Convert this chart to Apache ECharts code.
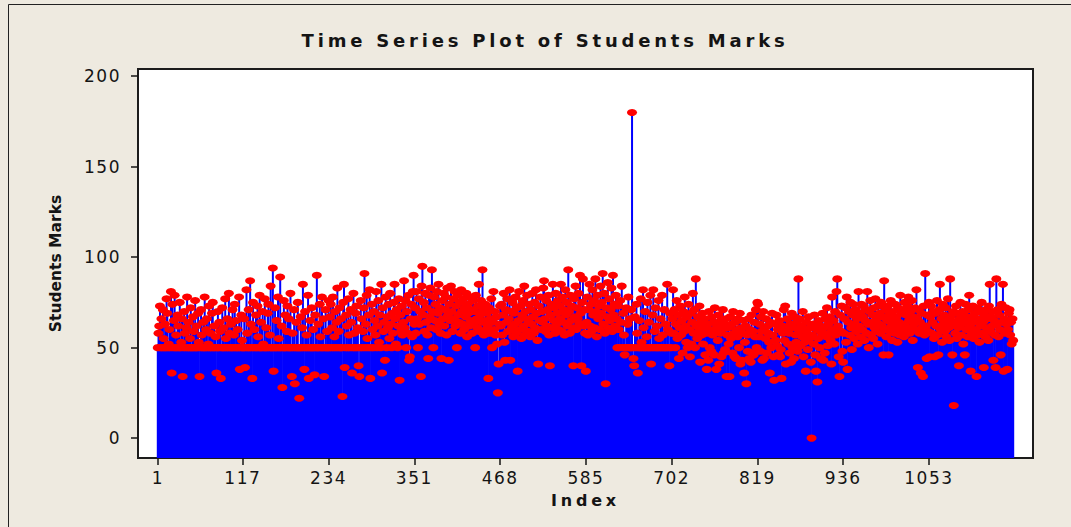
<!DOCTYPE html>
<html>
<head>
<meta charset="utf-8">
<title>Time Series Plot of Students Marks</title>
<script src="https://cdn.jsdelivr.net/npm/echarts@6.0.0/dist/echarts.min.js"></script>
<style>
  html, body { margin: 0; padding: 0; background: #eeeae0; overflow: hidden; }
  #chart { width: 1071px; height: 527px; }
  /* the original spreads its letters; echarts text has no letterSpacing, so it is done on the svg text */
  #chart text[style*="17px"] { letter-spacing: 1.5px; }
  #chart text[style*="18px"] { letter-spacing: 3.8px; }
  #chart text[style*="16px"] { letter-spacing: 3.8px; }
</style>
</head>
<body>
<div id="chart"></div>
<script>
// marks, one array per stretch between two index ticks
const marksPart1 = [
  50,58,62,73,50,66,50,71,55,50,63,50,77,69,50,52,60,50,81,36,
  74,50,65,79,50,57,50,68,62,50,75,50,53,66,34,50,70,58,50,61,
  78,50,64,50,55,72,50,50,67,59,50,76,50,62,50,69,53,34,50,71,
  57,50,64,50,78,50,60,66,50,52,73,50,58,50,69,75,50,62,50,56,
  36,50,70,50,64,59,33,50,72,50,61,50,77,55,50,66,50,80,58,50,
  63,50,71,50,57,74,50,65,50,60,50,78,38,50,68,54,50
];
const marksPart2 = [
  50,66,39,50,82,58,50,71,50,87,63,50,33,75,50,60,50,68,50,73,
  56,50,79,50,64,50,70,52,50,77,50,61,50,69,74,50,57,84,50,50,
  94,37,50,72,50,65,50,78,55,50,89,50,62,28,50,76,50,68,50,59,
  73,50,66,50,80,50,34,58,50,71,30,50,64,50,75,50,22,50,67,50,
  61,85,50,38,70,50,57,50,79,33,50,65,50,72,50,60,50,35,68,50,
  90,50,63,50,74,56,50,78,50,66,34,50,71,50,59,50,76
];
const marksPart3 = [
  50,67,74,50,61,78,50,56,70,50,64,83,50,59,72,50,66,50,23,75,
  85,39,50,68,62,50,77,57,50,71,64,36,50,80,58,50,69,73,50,61,
  40,34,50,76,66,50,59,72,91,50,63,79,55,50,68,82,33,50,74,60,
  50,70,65,57,81,50,62,76,53,68,50,85,36,72,59,64,43,78,50,67,
  61,74,55,80,63,50,69,58,75,85,66,52,71,50,62,77,32,68,59,73,
  57,64,87,61,76,50,70,58,79,43,45,66,74,56,81,90,63
];
const marksPart4 = [
  72,58,81,66,50,77,63,70,34,84,95,68,75,59,80,64,72,57,44,79,
  67,83,61,93,70,50,78,65,74,60,81,69,85,63,72,58,44,76,66,80,
  62,71,78,57,83,68,43,74,65,84,70,59,77,66,81,62,73,50,79,68,
  64,75,58,82,70,63,77,60,72,67,80,56,74,69,62,78,65,71,58,76,
  63,70,50,79,66,61,73,85,59,68,76,64,93,71,57,65,74,60,69,62,
  33,72,58,66,77,50,64,81,60,70,57,67,52,25,41,63,73
];
const marksPart5 = [
  62,74,57,68,80,53,43,71,64,77,59,66,82,43,70,61,75,56,69,63,
  78,58,72,37,65,81,60,73,55,68,76,62,84,57,70,66,79,59,64,74,
  56,71,63,80,67,58,75,61,82,69,54,41,73,65,78,60,70,64,83,87,
  66,59,76,62,71,79,57,40,68,74,61,85,65,72,58,80,63,69,76,60,
  73,66,85,59,78,64,71,57,82,68,75,62,93,70,58,79,65,73,61,40,
  77,67,84,60,72,66,80,63,90,69,40,75,88,62,71,58,37
];
const marksPart6 = [
  64,78,57,71,85,62,74,59,82,68,76,61,88,70,56,79,66,73,60,84,
  69,75,91,63,80,58,30,72,67,86,61,77,65,71,83,59,90,68,74,62,
  79,66,50,73,60,50,76,64,84,50,69,57,46,50,72,50,63,78,50,66,
  50,71,180,50,44,40,67,50,74,58,36,50,65,50,77,53,50,82,61,50,
  70,50,56,75,50,64,50,79,41,50,68,82,50,59,72,50,62,50,76,55,
  50,66,50,79,57,50,71,50,63,50,85,60,50,40,69,50,58
];
const marksPart7 = [
  66,82,58,71,50,63,76,55,68,44,61,73,57,65,47,70,59,78,62,53,
  67,50,74,60,45,69,52,64,80,58,71,50,88,62,55,67,59,73,42,64,
  57,69,52,61,66,46,58,38,63,43,70,50,60,48,67,57,64,46,72,59,
  38,62,54,68,41,58,65,45,60,71,47,63,49,66,34,57,61,52,34,67,
  55,63,47,70,58,45,64,44,60,56,66,50,69,41,61,43,58,65,36,53,
  62,30,57,48,66,44,60,42,68,47,59,46,64,56,71,50,75
];
const marksPart8 = [
  74,56,63,48,67,59,43,70,44,61,55,66,47,62,58,53,36,64,50,69,
  57,45,32,63,54,68,51,60,46,65,45,49,33,62,58,71,54,73,41,60,
  66,52,58,47,63,42,69,50,61,44,67,57,53,64,48,88,59,66,51,62,
  56,70,45,60,53,37,64,58,49,67,55,61,42,0,57,63,52,68,46,37,
  60,31,55,65,50,62,44,58,69,43,61,47,66,56,72,51,63,58,67,54,
  41,78,60,65,52,70,57,81,88,62,45,34,68,59,73,48,42
];
const marksPart9 = [
  58,66,72,53,78,38,64,70,57,75,61,49,68,74,55,63,71,59,66,52,
  81,62,69,56,74,60,67,73,54,65,71,58,81,63,50,70,76,57,64,68,
  55,72,61,77,59,66,52,73,63,69,58,75,62,67,46,87,60,71,56,65,
  73,46,68,59,76,62,54,70,65,58,74,61,67,53,72,64,57,79,60,69,
  63,71,56,75,62,68,59,73,78,65,58,70,61,76,54,67,63,72,60,82,
  66,39,71,58,64,36,69,61,34,73,57,91,62,44,68,59,75
];
const marksPart10 = [
  45,67,73,58,64,70,55,45,69,62,76,57,46,71,85,60,66,53,74,63,
  68,59,72,56,65,77,61,54,88,67,62,46,70,18,64,58,73,55,69,61,
  40,66,75,57,63,70,52,68,46,74,60,65,56,71,79,62,37,67,58,73,
  55,64,69,60,34,72,57,66,53,70,62,75,58,64,39,68,56,71,61,66,
  54,73,85,59,67,62,70,43,65,57,39,88,63,71,56,68,60,46,74,64,
  85,37,66,58,72,63,38,60,69,71,57,64,52,66,54
];

const indexTicks = [1, 117, 234, 351, 468, 585, 702, 819, 936, 1053];
const marksTicks = [0, 50, 100, 150, 200];

const marks = [].concat(marksPart1, marksPart2, marksPart3, marksPart4, marksPart5,
  marksPart6, marksPart7, marksPart8, marksPart9, marksPart10);
const points = marks.map((m, i) => [i + 1, m]);

const chart = echarts.init(document.getElementById('chart'), null, { renderer: 'svg' });

const ink = '#141414';

chart.setOption({
  animation: false,
  backgroundColor: '#eeeae0',
  title: {
    text: 'Time Series Plot of Students Marks',
    left: 540, top: 26, textAlign: 'center',
    textStyle: { fontFamily: 'DejaVu Sans', fontSize: 18, fontWeight: 'bold', color: ink }
  },
  graphic: [{
    type: 'rect', silent: true, z: -1,
    shape: { x: 8.5, y: 4.5, width: 1200, height: 600 },
    style: { fill: null, stroke: '#222', lineWidth: 1 }
  }],
  grid: {
    left: 138, top: 69, right: 38, bottom: 69,
    show: true, backgroundColor: '#fff', borderColor: '#1c1c1c', borderWidth: 2
  },
  xAxis: {
    type: 'value', min: -26, max: 1195,
    name: 'Index', nameLocation: 'middle', nameGap: 34,
    nameTextStyle: { fontFamily: 'DejaVu Sans', fontSize: 16, fontWeight: 'bold', color: ink },
    axisLine: { show: false, onZero: false },
    axisTick: { show: true, customValues: indexTicks, length: 7, lineStyle: { color: ink, width: 1.5 } },
    axisLabel: {
      customValues: indexTicks, margin: 11, formatter: v => String(v),
      fontFamily: 'DejaVu Sans', fontSize: 17, color: ink
    },
    splitLine: { show: false }
  },
  yAxis: {
    type: 'value', min: -11, max: 204,
    name: 'Students Marks', nameLocation: 'middle', nameRotate: 90, nameGap: 74,
    nameTextStyle: { fontFamily: 'DejaVu Sans', fontSize: 15.5, fontWeight: 'bold', color: ink },
    axisLine: { show: false, onZero: false },
    axisTick: { show: true, customValues: marksTicks, length: 7, lineStyle: { color: ink, width: 1.5 } },
    axisLabel: {
      customValues: marksTicks, margin: 17, formatter: v => String(v),
      fontFamily: 'DejaVu Sans', fontSize: 17, color: ink
    },
    splitLine: { show: false }
  },
  series: [
    {
      // projection lines down to the bottom of the plot
      type: 'custom', data: points, silent: true,
      renderItem: (params, api) => {
        const top = api.coord([api.value(0), api.value(1)]);
        const bottom = params.coordSys.y + params.coordSys.height;
        return {
          type: 'line',
          shape: { x1: top[0], y1: top[1], x2: top[0], y2: bottom },
          style: { stroke: '#0000ff', lineWidth: 2 }
        };
      }
    },
    {
      type: 'scatter', data: points, silent: true,
      symbol: 'circle', symbolSize: [10, 7],
      itemStyle: { color: '#ff0000', opacity: 1 }
    }
  ]
});
</script>
</body>
</html>
